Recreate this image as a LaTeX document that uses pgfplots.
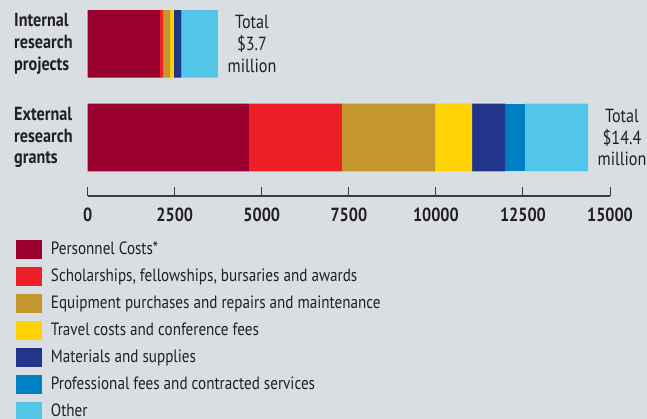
\documentclass[border=0pt]{standalone}
\usepackage{pgfplots}
\pgfplotsset{compat=1.18}
\usepackage{fontspec}
\setmainfont{PT Sans}[FakeStretch=0.85]
\definecolor{bg}{RGB}{217,222,226}
\definecolor{txt}{RGB}{35,31,32}
\definecolor{axc}{RGB}{60,60,60}
\definecolor{c1}{RGB}{153,0,48}
\definecolor{c2}{RGB}{238,31,38}
\definecolor{c3}{RGB}{196,150,46}
\definecolor{c4}{RGB}{255,210,4}
\definecolor{c5}{RGB}{33,53,139}
\definecolor{c6}{RGB}{0,128,196}
\definecolor{c7}{RGB}{82,198,232}
\pgfplotsset{sq/.style={draw=none, fill=#1, legend image code/.code={\fill[##1] (0pt,-9pt) rectangle (26pt,10pt);}}}
\begin{document}
\begin{tikzpicture}
\path[use as bounding box, fill=bg] (0,0) rectangle (647pt,-419pt);
\begin{axis}[
  at={(87.7pt,-196pt)}, anchor=south west,
  scale only axis, width=522.3pt, height=196pt,
  xmin=0, xmax=15000, ymin=-196, ymax=0,
  xbar stacked, bar width=67.5pt,
  axis x line*=bottom, axis y line*=left,
  y axis line style={draw=none},
  ytick={-137.5,-44},
  yticklabels={{External\\research\\grants},{Internal\\research\\projects}},
  ytick style={draw=none},
  yticklabel style={align=left, anchor=west, xshift=-73.7pt, inner sep=0pt, font=\fontsize{19pt}{21.7pt}\selectfont\bfseries, text=txt},
  xtick={0,2500,5000,7500,10000,12500,15000},
  scaled x ticks=false,
  xticklabel style={anchor=base, yshift=-25.7pt, inner sep=0pt, font=\fontsize{19pt}{22pt}\selectfont\bfseries, text=txt},
  /pgf/number format/assume math mode=true,
  /pgf/number format/1000 sep={},
  tick align=inside, major tick length=9.3pt,
  x axis line style={line width=1.6pt, color=axc},
  xtick style={line width=1pt, color=axc},
  clip=false,
  legend cell align=left,
  legend style={at={(-0.1373,-0.2245)}, anchor=north west, draw=none, fill=none, inner sep=0pt, outer sep=0pt, row sep=8pt, column sep=9pt, font=\fontsize{17.8pt}{20pt}\selectfont, text=txt, nodes={inner sep=0pt, text height=12pt, text depth=3pt}},
]
\addplot[sq=c1] coordinates {(2076,-44) (4632,-137.5)};
\addplot[sq=c2] coordinates {(87,-44) (2671,-137.5)};
\addplot[sq=c3] coordinates {(201,-44) (2671,-137.5)};
\addplot[sq=c4] coordinates {(114,-44) (1063,-137.5)};
\addplot[sq=c5] coordinates {(210,-44) (948,-137.5)};
\addplot[sq=c6] coordinates {(0,-44) (575,-137.5)};
\addplot[sq=c7] coordinates {(1054,-44) (1808,-137.5)};
\legend{Personnel Costs*,{Scholarships, fellowships, bursaries and awards},Equipment purchases and repairs and maintenance,Travel costs and conference fees,Materials and supplies,Professional fees and contracted services,Other}
\node[align=center, font=\fontsize{19pt}{21.7pt}\selectfont, text=txt] at (axis cs:4720,-44) {Total\\\$3.7\\million};
\node[align=center, font=\fontsize{19pt}{21.7pt}\selectfont, text=txt] at (axis cs:15345,-137.5) {Total\\\$14.4\\million};
\end{axis}
\end{tikzpicture}
\end{document}
